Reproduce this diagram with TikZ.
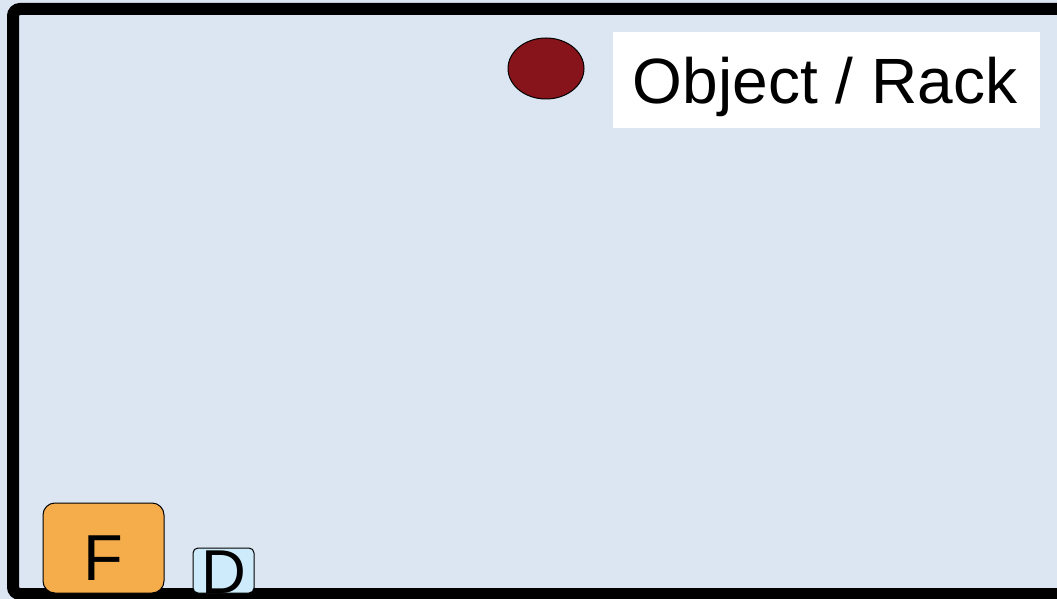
\documentclass[tikz,border=0pt]{standalone}
\usepackage{fontspec}
\setmainfont{Liberation Sans}
\usetikzlibrary{shapes.geometric}
\definecolor{floorblue}{HTML}{DCE6F2}
\definecolor{rackred}{HTML}{86141A}
\definecolor{fboxorange}{HTML}{F5AD4B}
\definecolor{dboxblue}{HTML}{CDEBFA}
\tikzset{
  wall/.style={line width=12pt, rounded corners=7pt},
  tagbox/.style={draw, line width=1pt, rounded corners=#1, inner sep=0pt},
  bigtext/.style={font=\fontsize{#1}{#1}\selectfont}
}
\begin{document}
\begin{tikzpicture}[x=1pt, y=-1pt]
  % canvas
  \clip (0,0) rectangle (1057,599);
  \fill[floorblue] (0,0) rectangle (1057,599);
  % room outline (right side runs off the picture)
  \draw[wall] (1080,594) -- (13,594) -- (13,9) -- (1080,9);
  % legend
  \node[ellipse, draw, fill=rackred, line width=1pt, inner sep=0pt,
        minimum width=76pt, minimum height=61pt] (rack) at (546,68.5) {};
  \node[fill=white, inner sep=0pt, minimum width=427pt, minimum height=96pt,
        text height=48pt, text depth=0pt, bigtext=64] (racklabel) at (826.5,80) {\hspace*{-3pt}Object / Rack};
  % boxes at the bottom
  \node[tagbox=12pt, fill=fboxorange, minimum width=121pt, minimum height=90pt,
        text height=64pt, text depth=0pt, bigtext=65] (fbox) at (103.5,548) {F};
  \node[tagbox=5pt, fill=dboxblue, minimum width=61pt, minimum height=45pt,
        text height=45pt, text depth=0pt, bigtext=62] (dbox) at (223.5,570.5) {D};
\end{tikzpicture}
\end{document}
